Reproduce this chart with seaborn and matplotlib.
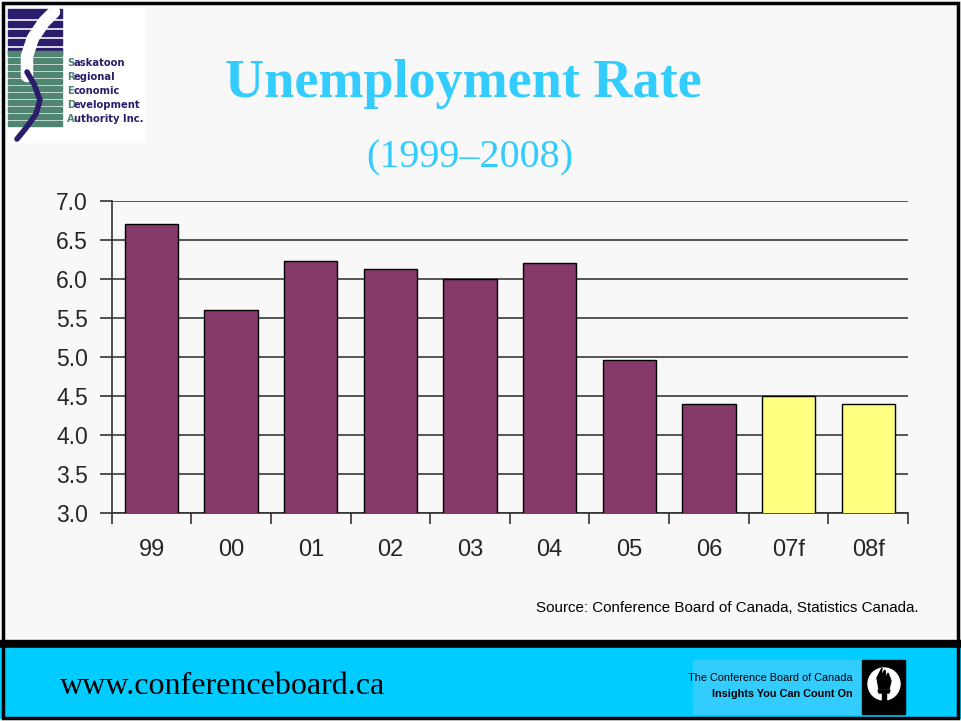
import matplotlib
matplotlib.use("Agg")
import matplotlib.pyplot as plt
from matplotlib.patches import Rectangle, Circle, Polygon
from matplotlib.ticker import FixedLocator, NullFormatter
import seaborn as sns
import pandas as pd

# chart data
years = ["99", "00", "01", "02", "03", "04", "05", "06", "07f", "08f"]
rates = [6.7, 5.6, 6.23, 6.13, 6.0, 6.2, 4.96, 4.4, 4.5, 4.4]
kind = ["actual"] * 8 + ["forecast"] * 2
y_ticks = [3.0, 3.5, 4.0, 4.5, 5.0, 5.5, 6.0, 6.5, 7.0]

PURPLE = "#853a69"
YELLOW = "#ffff80"
CYAN = "#33ccff"
BG = "#f8f8f8"

W, H = 961, 721


def px(x0, y0, x1, y1):
    """pixel box (top-left origin) -> figure rect"""
    return [x0 / W, 1 - y1 / H, (x1 - x0) / W, (y1 - y0) / H]


sns.set_theme(style="white")
plt.rcParams["font.family"] = ["Liberation Sans", "DejaVu Sans"]

fig = plt.figure(figsize=(W / 100, H / 100), dpi=100, facecolor=BG)

# slide background / footer layer
bg = fig.add_axes([0, 0, 1, 1])
bg.set_xlim(0, W)
bg.set_ylim(H, 0)
bg.axis("off")
bg.add_patch(Rectangle((0, 640), W, 8, color="black"))
bg.add_patch(Rectangle((0, 648), W, 70, color="#00ccff"))
bg.add_patch(Rectangle((3, 3), 955, 715, fill=False, ec="black", lw=2.5))
bg.add_patch(Rectangle((8, 8), 137, 134, color="white"))

bg.text(463, 97, "Unemployment Rate", family="Liberation Serif", weight="bold",
        fontsize=39, color=CYAN, ha="center", va="baseline")
bg.text(470, 167, "(1999\u20132008)", family="Liberation Serif",
        fontsize=29, color=CYAN, ha="center", va="baseline")
bg.text(919, 608, "Source: Conference Board of Canada, Statistics Canada.",
        fontsize=10.9, color="black", ha="right", va="center")
bg.text(60, 687, "www.conferenceboard.ca", family="Liberation Serif",
        fontsize=23, color="black", ha="left", va="center")

# conference board badge
bg.add_patch(Rectangle((693, 660), 169, 54, color=CYAN))
bg.text(853, 678, "The Conference Board of Canada",
        fontsize=7.8, ha="right", va="center", color="black")
bg.text(853, 694, "Insights You Can Count On", weight="bold",
        fontsize=7.8, ha="right", va="center", color="black")
bg.add_patch(Rectangle((862, 660), 43, 54, color="black"))
bg.add_patch(Circle((884, 684), 16, color="white"))
bg.add_patch(Polygon([(882, 706), (886, 706), (886, 692), (882, 692)], color="black"))
bg.add_patch(Polygon([(878, 690), (890, 690), (889, 693), (879, 693)], color="black"))
bg.add_patch(Polygon([(879, 689), (889, 689), (891, 681), (888, 673), (886, 679),
                      (885, 670), (881, 676), (882, 668), (877, 678)], color="black"))

# SREDA logo (rough sketch)
navy, green = "#2b1d6b", "#4f8571"
bg.add_patch(Rectangle((8, 9), 54, 9, color=navy))
for y in range(21, 50, 9):
    bg.add_patch(Rectangle((8, y), 54, 6, color=navy))
for y in range(51, 122, 7):
    bg.add_patch(Rectangle((8, y), 54, 5, color=green))
bg.plot([54, 44, 33, 27, 27], [12, 22, 38, 56, 76], color="white", lw=9,
        solid_capstyle="round")
bg.plot([27, 34, 40, 36, 26, 17], [72, 84, 100, 114, 128, 139], color=navy, lw=4)
for i, word in enumerate(["Saskatoon", "Regional", "Economic", "Development",
                          "Authority Inc."]):
    yy = 63 + i * 14
    bg.text(67, yy, word[0], color=green, weight="bold", fontsize=7.2,
            family="DejaVu Sans", va="center")
    bg.text(74, yy, word[1:], color=navy, weight="bold", fontsize=7.2,
            family="DejaVu Sans", va="center")

# bar chart
ax = fig.add_axes(px(111.7, 200.7, 908, 512.7))
ax.set_facecolor("none")
df = pd.DataFrame({"year": years, "rate": rates, "kind": kind})
sns.barplot(data=df, x="year", y="rate", hue="kind", dodge=False,
            palette={"actual": PURPLE, "forecast": YELLOW}, width=0.67,
            saturation=1, edgecolor="black", linewidth=1, legend=False,
            ax=ax, zorder=3)

ax.set_xlim(-0.5, len(years) - 0.5)
ax.set_ylim(3.0, 7.0)
ax.set_yticks(y_ticks)
ax.set_yticklabels([f"{v:.1f}" for v in y_ticks])
ax.yaxis.grid(True, color="#3a3a3a", lw=1.2, zorder=0)
ax.set_axisbelow(True)

ax.xaxis.set_major_locator(FixedLocator([i - 0.5 for i in range(len(years) + 1)]))
ax.xaxis.set_major_formatter(NullFormatter())
ax.xaxis.set_minor_locator(FixedLocator(list(range(len(years)))))
ax.set_xticklabels(years, minor=True)
ax.tick_params(axis="x", which="major", direction="out", length=8, width=1.2,
               color="#333333", bottom=True)
ax.tick_params(axis="x", which="minor", length=0, pad=19, labelsize=17)
ax.tick_params(axis="y", direction="out", length=9, width=1.2, color="#333333",
               left=True, pad=8, labelsize=16.5)

for side in ["top", "right"]:
    ax.spines[side].set_visible(False)
for side in ["left", "bottom"]:
    ax.spines[side].set_color("#333333")
    ax.spines[side].set_linewidth(1.2)
ax.set_xlabel("")
ax.set_ylabel("")

fig.savefig("out.png", dpi=100, facecolor=BG)
